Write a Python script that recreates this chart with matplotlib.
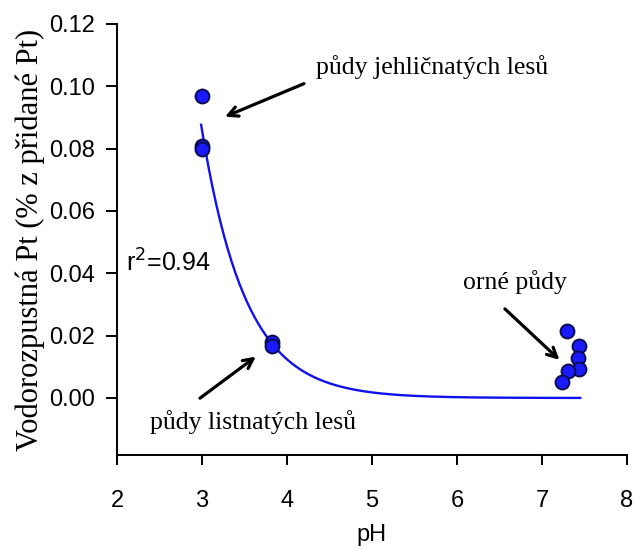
import matplotlib
matplotlib.use("Agg")
from matplotlib import pyplot as plt
import numpy as np

# water-soluble Pt vs. soil pH
ph = [3.0, 3.0, 3.0, 3.82, 3.82, 7.29, 7.44, 7.42, 7.44, 7.31, 7.23]
pt = [0.097, 0.081, 0.080, 0.018, 0.0167, 0.0216, 0.0167, 0.0127, 0.0092, 0.0087, 0.0052]

x_ticks = [2, 3, 4, 5, 6, 7, 8]
y_ticks = [0.00, 0.02, 0.04, 0.06, 0.08, 0.10, 0.12]
r2_text = "r$^2$=0.94"

# exponential fit y = a*exp(-k*(x-3)), least squares over k
x = np.array(ph)
y = np.array(pt)
best = None
for k in np.linspace(0.5, 5, 2000):
    e = np.exp(-k * (x - 3))
    a = np.sum(y * e) / np.sum(e * e)
    sse = np.sum((y - a * e) ** 2)
    if best is None or sse < best[0]:
        best = (sse, a, k)
_, fit_a, fit_k = best
xs = np.linspace(2.99, 7.45, 300)
ys = fit_a * np.exp(-fit_k * (xs - 3))

fig = plt.figure(figsize=(6.33, 5.49), dpi=100)
ax = fig.add_axes([0.1848, 0.1712, 0.8057, 0.7851])

ax.plot(xs, ys, color="#1010ee", linewidth=1.7, zorder=2)
ax.plot(ph, pt, "o", markersize=10, markerfacecolor="#1a1aff",
        markeredgecolor="#0c0c50", markeredgewidth=1.4, zorder=3)

ax.set_xlim(2, 8)
ax.set_ylim(-0.0183, 0.12)
ax.set_xticks(x_ticks)
ax.set_yticks(y_ticks)
ax.set_xticklabels([str(t) for t in x_ticks], fontfamily="Liberation Sans")
ax.set_yticklabels(["%.2f" % t for t in y_ticks], fontfamily="Liberation Sans")
for s in ["top", "right"]:
    ax.spines[s].set_visible(False)
for s in ["left", "bottom"]:
    ax.spines[s].set_linewidth(1.4)
ax.tick_params(axis="x", direction="out", length=7, width=1.4, labelsize=17, pad=18)
ax.tick_params(axis="y", direction="out", length=8, width=1.4, labelsize=17, pad=8)

ax.set_xlabel("pH", fontsize=17, fontfamily="Liberation Sans", labelpad=9)
ax.set_ylabel("Vodorozpustná Pt (% z přidané Pt)", fontsize=22,
              fontfamily="Liberation Serif", labelpad=3)

ax.text(2.11, 0.0433, r2_text, fontsize=18, fontfamily="Liberation Sans",
        ha="left", va="center")

arrow = dict(arrowstyle="->,head_length=0.7,head_width=0.35", color="black", lw=2.3)
serif = dict(fontsize=18.5, fontfamily="Liberation Serif", ha="center", va="center")
ax.text(5.71, 0.1063, "půdy jehličnatých lesů", **serif)
ax.annotate("", xy=(3.24, 0.0899), xytext=(4.23, 0.1012), arrowprops=arrow)
ax.text(6.68, 0.0372, "orné půdy", **serif)
ax.annotate("", xy=(7.23, 0.0116), xytext=(6.54, 0.0292), arrowprops=arrow)
ax.text(3.6, -0.0077, "půdy listnatých lesů", **serif)
ax.annotate("", xy=(3.66, 0.0138), xytext=(2.95, -0.0006), arrowprops=arrow)

plt.savefig("out.png", dpi=100)
